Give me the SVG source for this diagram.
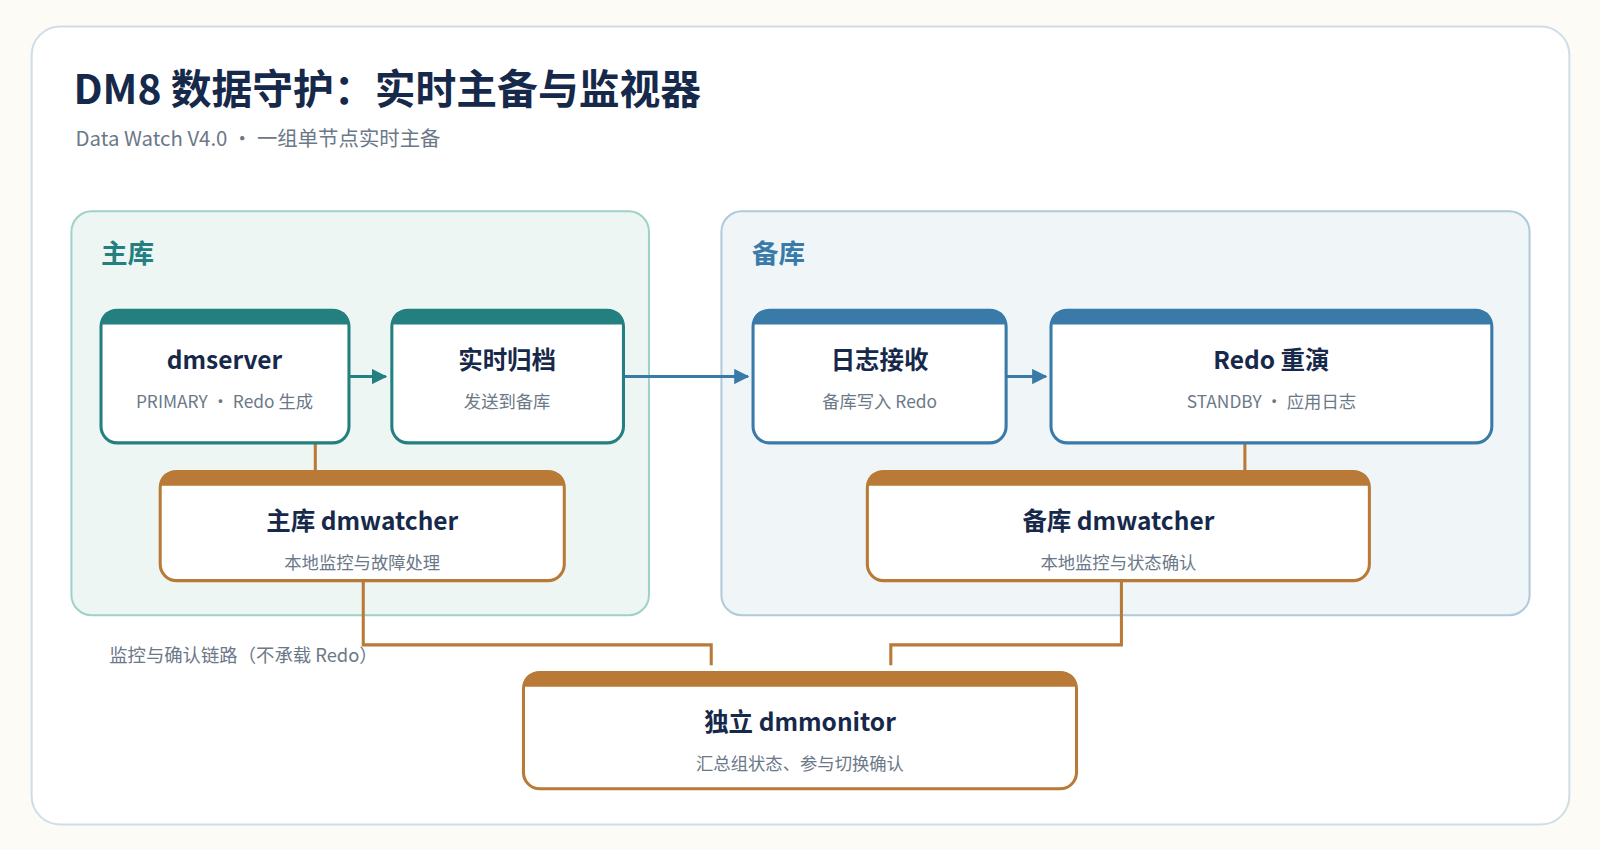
<svg xmlns="http://www.w3.org/2000/svg" width="1600" height="850" viewBox="0 0 1600 850">
<defs>
<style>
text{font-family:"Noto Sans CJK SC","Noto Sans",sans-serif}
.t{font-size:24px;font-weight:700;fill:#17294a;text-anchor:middle}
.s{font-size:17px;fill:#6b7888;text-anchor:middle}
.card{fill:#fff;stroke-width:3}
.teal{stroke:#237f80}.blue{stroke:#3a7aa8}.org{stroke:#b87a36}
.ln{fill:none;stroke-width:3}
</style>
<marker id="at" viewBox="0 0 10 10" refX="9" refY="5" markerWidth="5" markerHeight="5" orient="auto"><path d="M0,0L10,5L0,10z" fill="#237f80"/></marker>
<marker id="ab" viewBox="0 0 10 10" refX="9" refY="5" markerWidth="5" markerHeight="5" orient="auto"><path d="M0,0L10,5L0,10z" fill="#3a7aa8"/></marker>
</defs>
<rect width="1600" height="850" fill="#fcfbf6"/>
<g transform="scale(1.0204)">
<rect x="31" y="26" width="1507" height="782" rx="28" fill="#fff" stroke="#cfdde6" stroke-width="2"/>
<text x="72" y="102" font-size="40" font-weight="700" fill="#17294a">DM8 数据守护：实时主备与监视器</text>
<text x="74" y="143" font-size="20" fill="#6b7888">Data Watch V4.0  ·  一组单节点实时主备</text>
<g id="cluster-primary"><rect x="70" y="207" width="566" height="396" rx="20" fill="#eef6f3" stroke="#a0d1c9" stroke-width="2"/><text x="99" y="258" font-size="26" font-weight="700" fill="#237f80">主库</text></g>
<g id="cluster-standby"><rect x="707" y="207" width="792" height="396" rx="20" fill="#f0f5f8" stroke="#aecadb" stroke-width="2"/><text x="737" y="258" font-size="26" font-weight="700" fill="#3a7aa8">备库</text></g>
<g id="connectors">
<path class="ln" d="M342,369H378" stroke="#237f80" marker-end="url(#at)"/>
<path class="ln" d="M611,369H733" stroke="#3a7aa8" marker-end="url(#ab)"/>
<path class="ln" d="M986,369H1025" stroke="#3a7aa8" marker-end="url(#ab)"/>
<path class="ln org" d="M309,434V462"/>
<path class="ln org" d="M1220,434V462"/>
<path class="ln org" d="M356,569V632H697V652"/>
<path class="ln org" d="M1099,569V632H873V652"/>
<text x="107" y="649" font-size="18" fill="#6b7888">监控与确认链路（不承载 Redo）</text>
</g>
<g id="n-dmserver"><rect class="card teal" x="99" y="304" width="243" height="130" rx="16"/><path d="M99,318V316a12,12 0 0 1 12,-12H330a12,12 0 0 1 12,12V318z" fill="#237f80"/><text class="t" x="220" y="362">dmserver</text><text class="s" x="220" y="400">PRIMARY  ·  Redo 生成</text></g>
<g id="n-archive"><rect class="card teal" x="384" y="304" width="227" height="130" rx="16"/><path d="M384,318V316a12,12 0 0 1 12,-12H599a12,12 0 0 1 12,12V318z" fill="#237f80"/><text class="t" x="497" y="362">实时归档</text><text class="s" x="497" y="400">发送到备库</text></g>
<g id="n-recv"><rect class="card blue" x="738" y="304" width="248" height="130" rx="16"/><path d="M738,318V316a12,12 0 0 1 12,-12H974a12,12 0 0 1 12,12V318z" fill="#3a7aa8"/><text class="t" x="862" y="362">日志接收</text><text class="s" x="862" y="400">备库写入 Redo</text></g>
<g id="n-redo"><rect class="card blue" x="1030" y="304" width="432" height="130" rx="16"/><path d="M1030,318V316a12,12 0 0 1 12,-12H1450a12,12 0 0 1 12,12V318z" fill="#3a7aa8"/><text class="t" x="1246" y="362">Redo 重演</text><text class="s" x="1246" y="400">STANDBY  ·  应用日志</text></g>
<g id="n-pw"><rect class="card org" x="157" y="462" width="396" height="107" rx="16"/><path d="M157,476V474a12,12 0 0 1 12,-12H541a12,12 0 0 1 12,12V476z" fill="#b87a36"/><text class="t" x="355" y="519">主库 dmwatcher</text><text class="s" x="355" y="558">本地监控与故障处理</text></g>
<g id="n-sw"><rect class="card org" x="850" y="462" width="492" height="107" rx="16"/><path d="M850,476V474a12,12 0 0 1 12,-12H1330a12,12 0 0 1 12,12V476z" fill="#b87a36"/><text class="t" x="1096" y="519">备库 dmwatcher</text><text class="s" x="1096" y="558">本地监控与状态确认</text></g>
<g id="n-mon"><rect class="card org" x="513" y="659" width="542" height="114" rx="16"/><path d="M513,673V671a12,12 0 0 1 12,-12H1043a12,12 0 0 1 12,12V673z" fill="#b87a36"/><text class="t" x="784" y="716">独立 dmmonitor</text><text class="s" x="784" y="755">汇总组状态、参与切换确认</text></g>
</g>
</svg>
